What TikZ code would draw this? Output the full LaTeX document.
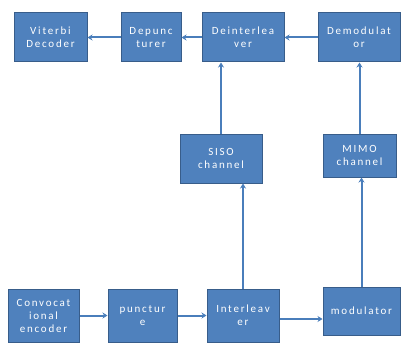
\documentclass[tikz,border=0pt]{standalone}
\usepackage{fontspec}
\newfontfamily\boxfont[LetterSpace=16]{Carlito}
\usetikzlibrary{arrows.meta,positioning}
\definecolor{boxblue}{HTML}{4F81BD}
\definecolor{boxedge}{HTML}{385D8A}
\definecolor{linkblue}{HTML}{4A7EBB}

\begin{document}
\begin{tikzpicture}[x=1pt,y=-1pt,
      block/.style={
         rectangle,
         draw=boxedge,
         line width=1pt,
         fill=boxblue,
         text=white,
         inner sep=1pt,
         align=center,
         font=\boxfont\fontsize{11}{13}\selectfont},
      link/.style={-{Stealth[length=5pt,width=6pt]},draw=linkblue,line width=2pt}
      ]
      \useasboundingbox (0,0) rectangle (403,342);
      % receiver row
      \node[block,minimum width=73pt,minimum height=49pt] (vit) at (50.5,37.5) {Viterbi\\Decoder};
      \node[block,minimum width=60pt,minimum height=49pt] (depunc) at (151,37.5) {Depunc\\turer};
      \node[block,minimum width=82pt,minimum height=49pt] (deint) at (243,37.5) {Deinterlea\\ver};
      \node[block,minimum width=82pt,minimum height=49pt] (demod) at (359,37.5) {Demodulat\\or};
      % channels
      \node[block,minimum width=82pt,minimum height=49pt] (siso) at (221,158.5) {SISO\\channel};
      \node[block,minimum width=73pt,minimum height=43pt] (mimo) at (359.5,155.5) {MIMO\\channel};
      % transmitter row
      \node[block,minimum width=71pt,minimum height=53pt] (conv) at (43.5,315.5) {Convocat\\ional\\encoder};
      \node[block,minimum width=69pt,minimum height=53pt] (punc) at (142.5,315.5) {punctur\\e};
      \node[block,minimum width=72pt,minimum height=53pt] (intl) at (243,315.5) {Interleav\\er};
      \node[block,minimum width=77pt,minimum height=48pt] (mod) at (361.5,311) {modulator};

    \foreach \i/\j in {% start node/end node
      demod/deint,
      deint/depunc,
      depunc/vit,
      conv/punc,
      punc/intl}
       \draw [link] (\i) -- (\j);

    \draw [link] ([yshift=-3.5pt]intl.east) -- ([yshift=-3.5pt]intl.east -| mod.west);
    \draw [link] (intl.north) -- (intl.north |- siso.south);
    \draw [link] (siso.north) -- (siso.north |- deint.south);
    \draw [link] (mod.north) -- (mod.north |- mimo.south);
    \draw [link] (mimo.north) -- (mimo.north |- demod.south);

    \end{tikzpicture}
\end{document}
